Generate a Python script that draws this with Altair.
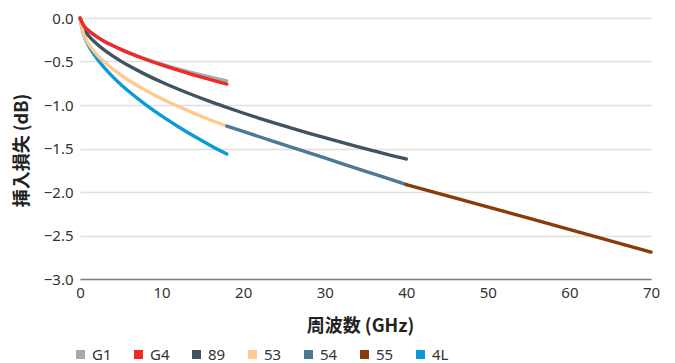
import altair as alt
import pandas as pd

# --- data ---
f_short = [0, 0.5, 1, 2, 3, 4, 5, 6, 8, 10, 12, 14, 16, 18]
g1 = [0, -0.095, -0.142, -0.212, -0.269, -0.317, -0.361, -0.401, -0.470, -0.530, -0.584, -0.634, -0.679, -0.722]
g4 = [0, -0.095, -0.142, -0.212, -0.269, -0.317, -0.361, -0.401, -0.474, -0.540, -0.600, -0.656, -0.709, -0.759]
s53 = [0, -0.207, -0.293, -0.414, -0.507, -0.586, -0.655, -0.718, -0.829, -0.927, -1.015, -1.096, -1.172, -1.243]
s4l = [0, -0.210, -0.310, -0.457, -0.574, -0.674, -0.764, -0.845, -0.993, -1.126, -1.247, -1.360, -1.465, -1.564]

f_89 = [0, 0.5, 1, 2, 3, 4, 5, 6, 8, 10, 12, 14, 16, 18, 20, 22, 24, 26, 28, 30, 32, 34, 36, 38, 40]
s89 = [0, -0.133, -0.198, -0.294, -0.370, -0.436, -0.496, -0.550, -0.648, -0.736, -0.816, -0.891, -0.962,
       -1.028, -1.092, -1.153, -1.212, -1.268, -1.323, -1.376, -1.428, -1.478, -1.527, -1.575, -1.621]

f_54 = [18, 20, 22, 24, 26, 28, 30, 32, 34, 36, 38, 40]
s54 = [-1.243, -1.304, -1.365, -1.426, -1.487, -1.548, -1.609, -1.670, -1.731, -1.792, -1.853, -1.914]

f_55 = [40, 55, 70]
s55 = [-1.914, -2.300, -2.690]

series_names = ["G1", "G4", "89", "53", "54", "55", "4L"]
series_colors = ["#A2AAB2", "#EE2B24", "#3F5360", "#FFC98F", "#4E7893", "#8B3A0B", "#0A9BD7"]
draw_order = {"G1": 0, "89": 1, "4L": 2, "53": 3, "54": 4, "55": 5, "G4": 6}

rows = []
def add(name, fs, vs):
    for f, v in zip(fs, vs):
        rows.append({"series": name, "freq": f, "loss": v, "ord": draw_order[name]})

add("G1", f_short, g1)
add("89", f_89, s89)
add("4L", f_short, s4l)
add("53", f_short, s53)
add("54", f_54, s54)
add("55", f_55, s55)
add("G4", f_short, g4)
df = pd.DataFrame(rows)

label_font = "Noto Sans"
title_font = "Noto Sans CJK JP"

chart = alt.Chart(df).mark_line(strokeWidth=3.4, interpolate="monotone", strokeCap="round").encode(
    x=alt.X("freq:Q", scale=alt.Scale(domain=[0, 70], nice=False, zero=False),
            axis=alt.Axis(title="周波数 (GHz)", values=[0, 10, 20, 30, 40, 50, 60, 70],
                          grid=False, ticks=False, domain=True, domainColor="#7F7F7F",
                          domainWidth=1.5, labelFlush=False,
                          labelFont=label_font, labelFontSize=15, labelColor="#333333",
                          labelPadding=6,
                          titleFont=title_font, titleFontSize=18, titleFontWeight="bold",
                          titleColor="#222222", titleX=280, titleY=47,
                          titleBaseline="middle", titleAlign="center")),
    y=alt.Y("loss:Q", scale=alt.Scale(domain=[-3.0, 0.0], nice=False, zero=False),
            axis=alt.Axis(title="挿入損失 (dB)", values=[0, -0.5, -1.0, -1.5, -2.0, -2.5, -3.0],
                          format=".1f", grid=True, gridColor="#E0E0E0", gridWidth=1.5,
                          ticks=False, domain=False, labelFlush=False,
                          labelFont=label_font, labelFontSize=15, labelColor="#333333",
                          labelPadding=7,
                          titleFont=title_font, titleFontSize=18, titleFontWeight="bold",
                          titleColor="#222222", titleX=-58, titleY=132, titleAngle=270,
                          titleBaseline="middle", titleAlign="center")),
    color=alt.Color("series:N", scale=alt.Scale(domain=series_names, range=series_colors),
                    legend=alt.Legend(title=None, orient="none", legendX=-7, legendY=329,
                                      direction="horizontal", columns=7,
                                      symbolType="square", symbolSize=1,
                                      symbolStrokeWidth=8, labelOffset=4,
                                      columnPadding=10,
                                      labelFont=label_font, labelFontSize=15,
                                      labelColor="#333333")),
    order=alt.Order("ord:Q"),
    detail="series:N",
).properties(
    width=571, height=261,
    padding={"left": 72, "top": 10, "right": 10, "bottom": 84},
    autosize=alt.AutoSizeParams(type="none"),
).configure_view(stroke=None)

chart.save("out.html", embed_options={"renderer": "svg", "actions": False})
